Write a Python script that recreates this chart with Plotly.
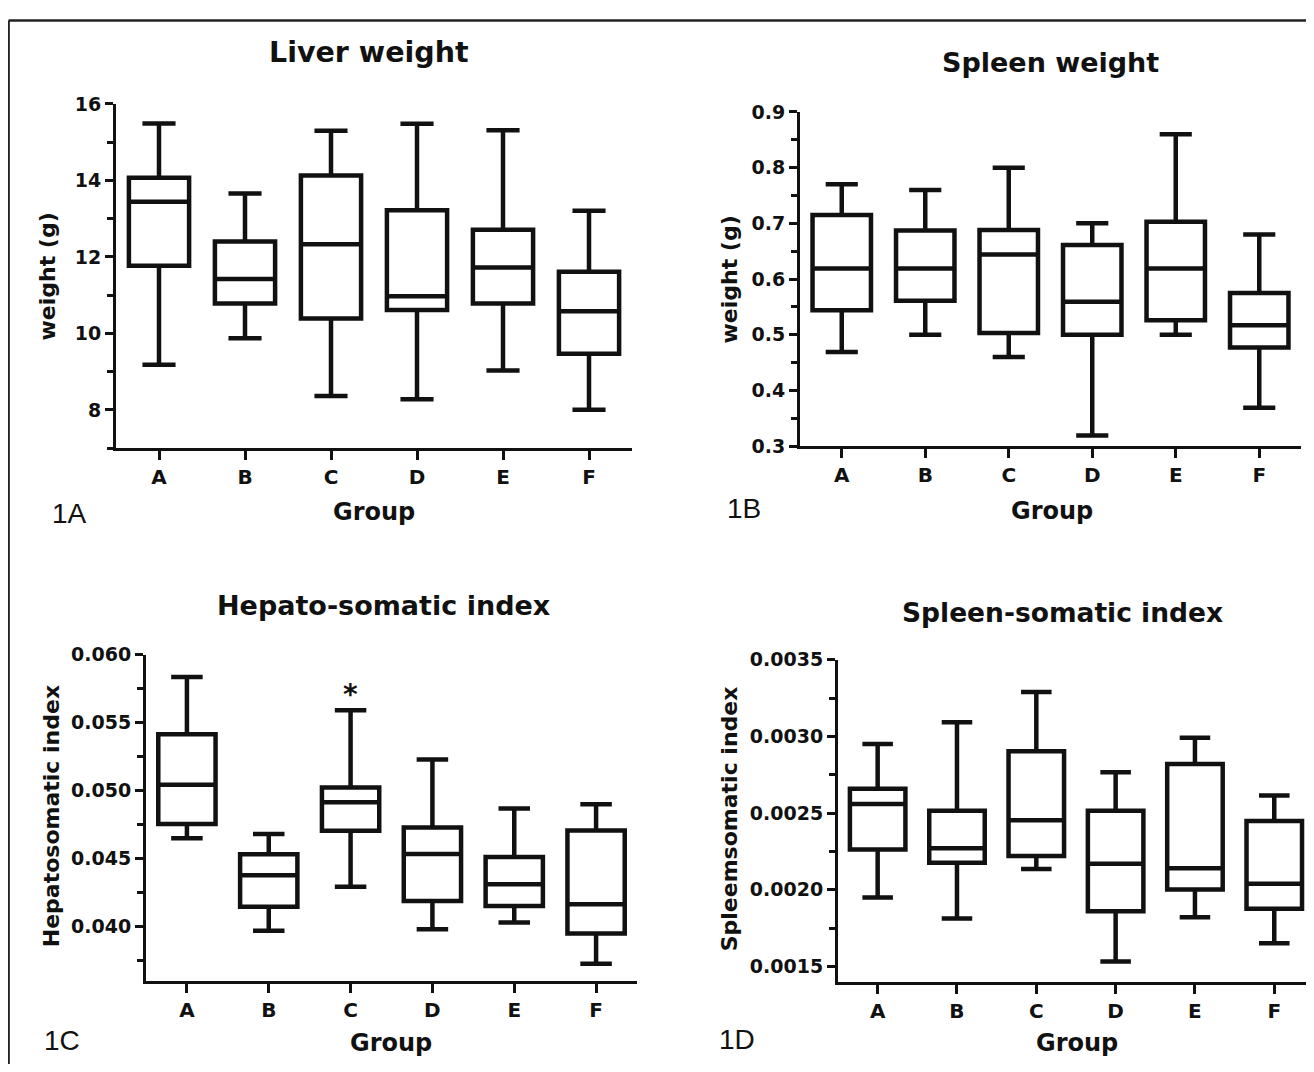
import plotly.graph_objects as go

# ---------------- data ----------------
groups = ["A", "B", "C", "D", "E", "F"]

liver_low = [9.18, 9.87, 8.36, 8.28, 9.03, 8.00]
liver_q1 = [11.77, 10.78, 10.39, 10.61, 10.78, 9.47]
liver_med = [13.44, 11.42, 12.33, 10.97, 11.72, 10.58]
liver_q3 = [14.07, 12.40, 14.13, 13.22, 12.71, 11.61]
liver_high = [15.49, 13.66, 15.30, 15.48, 15.31, 13.21]

spleen_low = [0.469, 0.500, 0.460, 0.319, 0.500, 0.369]
spleen_q1 = [0.544, 0.561, 0.503, 0.500, 0.526, 0.477]
spleen_med = [0.619, 0.619, 0.644, 0.559, 0.619, 0.517]
spleen_q3 = [0.715, 0.687, 0.688, 0.661, 0.703, 0.575]
spleen_high = [0.770, 0.760, 0.800, 0.700, 0.860, 0.680]

hsi_low = [0.0465, 0.03968, 0.04293, 0.0398, 0.0403, 0.03725]
hsi_q1 = [0.04754, 0.04145, 0.04704, 0.04187, 0.0415, 0.03948]
hsi_med = [0.05044, 0.04377, 0.04914, 0.04534, 0.0431, 0.04163]
hsi_q3 = [0.05414, 0.04532, 0.05022, 0.04729, 0.04512, 0.04707]
hsi_high = [0.05837, 0.0468, 0.05591, 0.05229, 0.04869, 0.049]

ssi_low = [0.00195, 0.001812, 0.002135, 0.001533, 0.001821, 0.001652]
ssi_q1 = [0.002262, 0.002177, 0.002221, 0.00186, 0.002002, 0.001876]
ssi_med = [0.002559, 0.002271, 0.002454, 0.00217, 0.00214, 0.00204]
ssi_q3 = [0.002659, 0.002515, 0.002904, 0.002515, 0.002821, 0.002448]
ssi_high = [0.00295, 0.003092, 0.00329, 0.002766, 0.002991, 0.002615]

panel_titles = ["Liver weight", "Spleen weight", "Hepato-somatic index", "Spleen-somatic index"]
y_titles = ["weight (g)", "weight (g)", "Hepatosomatic index", "Spleemsomatic index"]
panel_labels = ["1A", "1B", "1C", "1D"]
x_title = "Group"
signif_group = "C"

# ---------------- layout helpers ----------------
# figure placed in the page with an 8px body margin; vertical placement
# calibrated so that window coordinates land where intended
OX, OY = 8, 8
W, H = 1314 - 2 * OX, 1072 - 2 * OY
VS, VO = 0.976, 12.5


def fx(px):
    return (px - OX) / W


def fy(py):
    win = (py - VO) / VS
    return 1 - (win - OY) / H


FONT = "DejaVu Sans"
BLACK = "#111111"

fig = go.Figure()

panels = [
    dict(ax="", low=liver_low, q1=liver_q1, med=liver_med, q3=liver_q3, high=liver_high),
    dict(ax="2", low=spleen_low, q1=spleen_q1, med=spleen_med, q3=spleen_q3, high=spleen_high),
    dict(ax="3", low=hsi_low, q1=hsi_q1, med=hsi_med, q3=hsi_q3, high=hsi_high),
    dict(ax="4", low=ssi_low, q1=ssi_q1, med=ssi_med, q3=ssi_q3, high=ssi_high),
]

for p in panels:
    fig.add_trace(go.Box(
        x=groups, q1=p["q1"], median=p["med"], q3=p["q3"],
        lowerfence=p["low"], upperfence=p["high"],
        xaxis="x" + p["ax"], yaxis="y" + p["ax"],
        width=0.7, whiskerwidth=0.55,
        line=dict(color=BLACK, width=4.5),
        fillcolor="rgba(255,255,255,0)",
        boxpoints=False, hoverinfo="skip", showlegend=False,
    ))

# target geometry (window pixels) of the four plotting areas: (left, right, top, bottom)
geo = [
    (116, 632, 105, 448),
    (800, 1301, 113, 446),
    (146, 637, 654, 979),
    (838, 1306, 659, 980),
]
xranges = [[-0.5, 5.5], [-0.5, 5.5], [-0.5, 5.5], [-0.5, 5.4]]
yranges = [[7, 16], [0.3, 0.9], [0.036, 0.060], [0.0014, 0.0035]]
ydticks = [2, 0.1, 0.005, 0.0005]
yminor = [1, 0.05, 0.0025, 0.00025]
yformats = ["d", ".1f", ".3f", ".4f"]

ytickfont = dict(family=FONT, size=19, color=BLACK, weight="bold")
xtickfont = dict(family=FONT, size=20, color=BLACK, weight="bold")
layout = dict(
    width=W, height=H, margin=dict(l=0, r=0, t=0, b=0),
    paper_bgcolor="white", plot_bgcolor="white",
    font=dict(family=FONT, color=BLACK),
)
for i, (l, r, t, b) in enumerate(geo):
    suf = "" if i == 0 else str(i + 1)
    layout["xaxis" + suf] = dict(
        domain=[fx(l), min(fx(r), 1.0)], anchor="y" + suf,
        type="category", categoryorder="array", categoryarray=groups,
        range=xranges[i], showgrid=False, zeroline=False,
        showline=True, linecolor=BLACK, linewidth=3,
        ticks="outside", ticklen=9, tickwidth=3, tickcolor=BLACK,
        tickfont=xtickfont, fixedrange=True,
    )
    layout["yaxis" + suf] = dict(
        domain=[fy(b), fy(t)], anchor="x" + suf,
        range=yranges[i], dtick=ydticks[i], tick0=0, tickformat=yformats[i],
        showgrid=False, zeroline=False,
        showline=True, linecolor=BLACK, linewidth=3,
        ticks="outside", ticklen=8, tickwidth=3, tickcolor=BLACK,
        tickfont=ytickfont, fixedrange=True,
        minor=dict(dtick=yminor[i], tick0=0, ticks="outside", ticklen=6,
                   tickwidth=3, tickcolor=BLACK, showgrid=False),
    )
fig.update_layout(**layout)

ann = []
title_pos = [(369, 54), (1050, 64), (383, 605), (1062, 612)]
title_sizes = [28.5, 27, 27, 26.5]
for (x, y), txt, sz in zip(title_pos, panel_titles, title_sizes):
    ann.append(dict(x=fx(x), y=fy(y), xref="paper", yref="paper", text=txt,
                    showarrow=False, xanchor="center", yanchor="middle",
                    font=dict(family=FONT, size=sz, color=BLACK, weight="bold")))
group_pos = [(374, 512), (1052, 511), (391, 1041), (1077, 1041)]
for x, y in group_pos:
    ann.append(dict(x=fx(x), y=fy(y), xref="paper", yref="paper", text=x_title,
                    showarrow=False, xanchor="center", yanchor="middle",
                    font=dict(family=FONT, size=24, color=BLACK, weight="bold")))
ytitle_pos = [(48, 277), (730, 280), (51, 815), (729, 818)]
for (x, y), txt in zip(ytitle_pos, y_titles):
    ann.append(dict(x=fx(x), y=fy(y), xref="paper", yref="paper", text=txt,
                    showarrow=False, xanchor="center", yanchor="middle", textangle=-90,
                    font=dict(family=FONT, size=22, color=BLACK, weight="bold")))
label_pos = [(69, 513), (744, 508), (62, 1039), (737, 1038)]
for (x, y), txt in zip(label_pos, panel_labels):
    ann.append(dict(x=fx(x), y=fy(y), xref="paper", yref="paper", text=txt,
                    showarrow=False, xanchor="center", yanchor="middle",
                    font=dict(family="Liberation Sans", size=28, color=BLACK)))
# significance star above group C in panel 1C
ann.append(dict(x=signif_group, y=fy(694), xref="x3", yref="paper", text="*",
                showarrow=False, xanchor="center", yanchor="middle",
                font=dict(family=FONT, size=28, color=BLACK, weight="bold")))
fig.update_layout(annotations=ann)

# outer frame (left and top edges visible)
fig.add_shape(type="line", xref="paper", yref="paper", x0=fx(8.6), x1=fx(8.6), y0=-0.05, y1=1 - 1.5 / H,
              line=dict(color="#222222", width=2.5))
fig.add_shape(type="line", xref="paper", yref="paper", x0=fx(8.6), x1=1.05, y0=1 - 1.5 / H, y1=1 - 1.5 / H,
              line=dict(color="#222222", width=2.5))

fig.write_html("out.html")
